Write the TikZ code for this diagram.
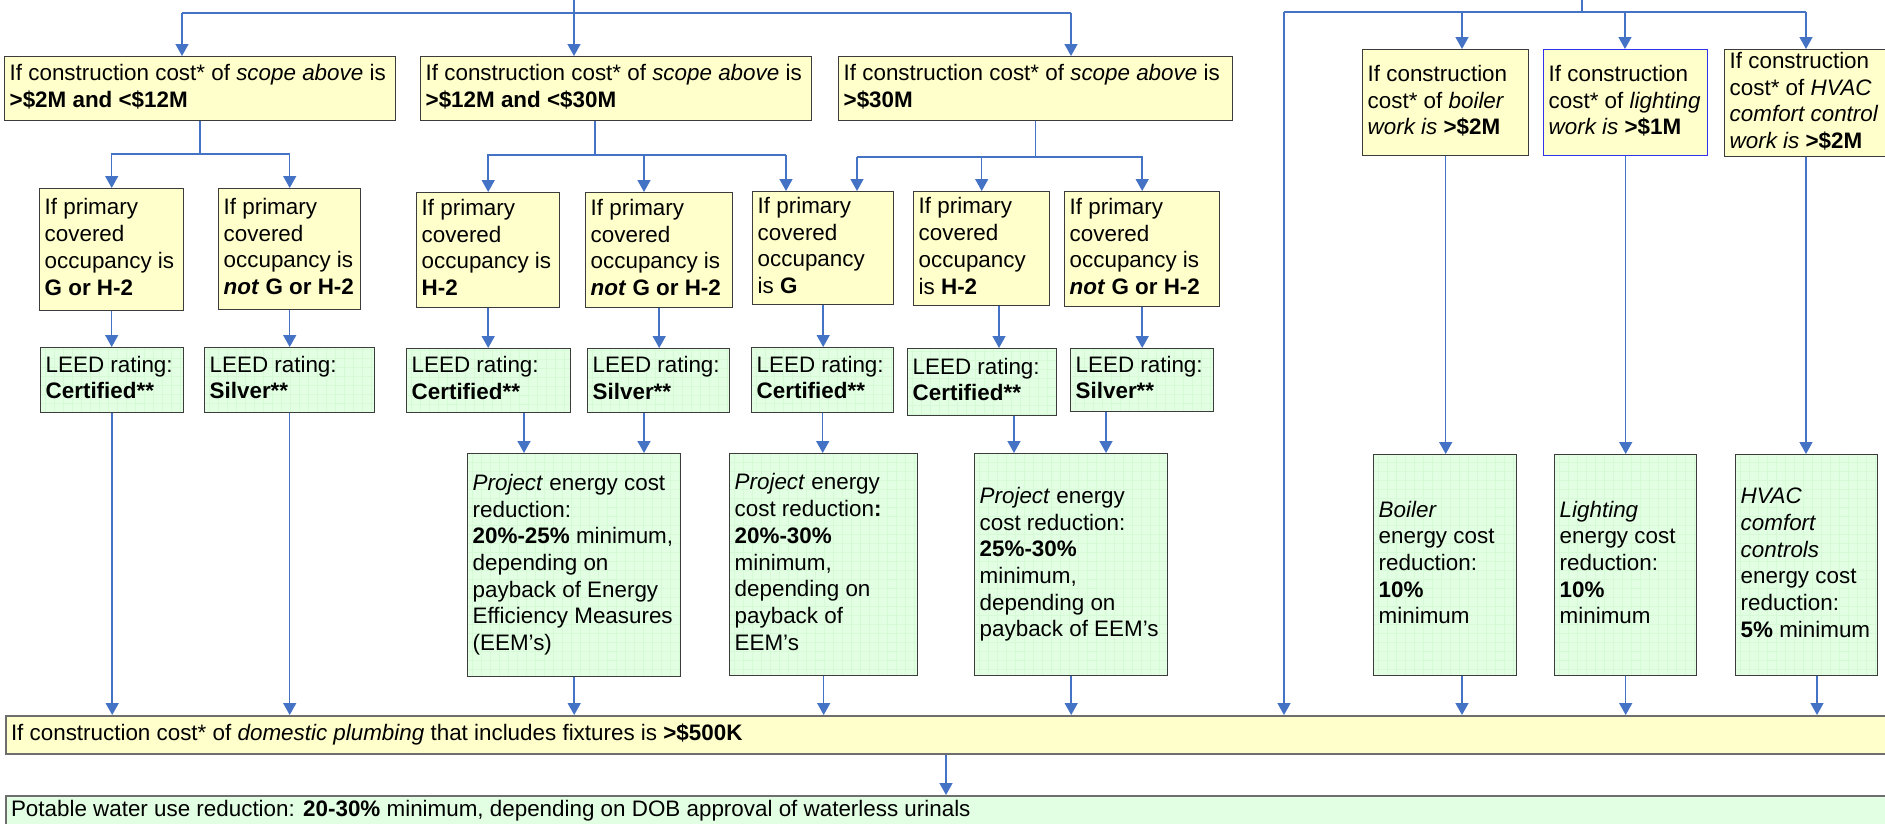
\documentclass[tikz,border=0pt]{standalone}
\usepackage{fontspec}
\setmainfont{Liberation Sans}
\usetikzlibrary{arrows.meta,calc}
\definecolor{conn}{RGB}{68,114,196}
\definecolor{ybox}{RGB}{255,255,204}
\definecolor{gbox}{RGB}{227,255,227}
\definecolor{ggrid}{RGB}{214,249,214}
\definecolor{edgec}{RGB}{60,60,60}
\definecolor{bluedge}{RGB}{50,50,235}
\definecolor{bargray}{RGB}{110,110,110}
\tikzset{
  box/.style={draw=edgec, line width=1.4pt, anchor=north west, inner xsep=5pt, inner ysep=0pt,
    font=\fontsize{22.4}{26.7}\selectfont},
  yb/.style={box, fill=ybox},
  gb/.style={box, fill=gbox, path picture={\draw[ggrid, line width=0.5pt]
      (path picture bounding box.north west) grid[step=9pt] (path picture bounding box.south east);}},
  ybl/.style={box, fill=ybox, draw=bluedge},
  ybar/.style={box, fill=ybox, draw=bargray, line width=2pt},
  gbar/.style={box, fill=gbox, draw=bargray, line width=2pt},
  ln/.style={draw=conn, line width=1.5pt},
  ar/.style={ln, -{Triangle[length=12pt,width=13pt]}}
}
\newcommand\bx[7]{%
  \pgfmathsetmacro\bxw{#4-#2}%
  \pgfmathsetmacro\bxh{#5-#3}%
  \pgfmathsetmacro\bxt{#4-#2-10}%
  \node[#6, minimum width=\bxw pt, minimum height=\bxh pt] (#1) at (#2,#3)
    {\makebox[\bxt pt][l]{\begin{tabular}{@{}l@{}}#7\end{tabular}}};}
\begin{document}
\begin{tikzpicture}[x=1pt,y=-1pt]
\useasboundingbox (0,0) rectangle (1885,823);
\clip (0,0) rectangle (1885,823);

% top row
\bx{A1}{4}{56}{395}{120}{yb}{If construction cost* of \textit{scope above} is\\\textbf{>\$2M and <\$12M}}
\bx{A2}{420}{56}{811}{120}{yb}{If construction cost* of \textit{scope above} is\\\textbf{>\$12M and <\$30M}}
\bx{A3}{838}{56}{1232}{120}{yb}{If construction cost* of \textit{scope above} is\\\textbf{>\$30M}}
\bx{C1}{1362}{49}{1528}{155}{yb}{If construction\\cost* of \textit{boiler}\\\textit{work is} \textbf{>\$2M}}
\bx{C2}{1543}{49}{1707}{155}{ybl}{If construction\\cost* of \textit{lighting}\\\textit{work is} \textbf{>\$1M}}
\bx{C3}{1724}{49}{1910}{156}{yb}{If construction\\cost* of \textit{HVAC}\\\textit{comfort control}\\\textit{work is} \textbf{>\$2M}}

% occupancy row
\bx{B1}{39}{188}{183}{310}{yb}{If primary\\covered\\occupancy is\\\textbf{G or H-2}}
\bx{B2}{218}{188}{360}{309}{yb}{If primary\\covered\\occupancy is\\\textbf{\textit{not} G or H-2}}
\bx{B3}{416}{192}{559}{307}{yb}{If primary\\covered\\occupancy is\\\textbf{H-2}}
\bx{B4}{585}{192}{732}{307}{yb}{If primary\\covered\\occupancy is\\\textbf{\textit{not} G or H-2}}
\bx{B5}{752}{191}{893}{304}{yb}{If primary\\covered\\occupancy\\is \textbf{G}}
\bx{B6}{913}{191}{1049}{305}{yb}{If primary\\covered\\occupancy\\is \textbf{H-2}}
\bx{B7}{1064}{191}{1219}{306}{yb}{If primary\\covered\\occupancy is\\\textbf{\textit{not} G or H-2}}

% LEED row
\bx{D1}{40}{347}{183}{412}{gb}{LEED rating:\\\textbf{Certified**}}
\bx{D2}{204}{347}{374}{412}{gb}{LEED rating:\\\textbf{Silver**}}
\bx{D3}{406}{348}{570}{412}{gb}{LEED rating:\\\textbf{Certified**}}
\bx{D4}{587}{348}{729}{412}{gb}{LEED rating:\\\textbf{Silver**}}
\bx{D5}{751}{347}{893}{412}{gb}{LEED rating:\\\textbf{Certified**}}
\bx{D6}{907}{348}{1056}{415}{gb}{LEED rating:\\\textbf{Certified**}}
\bx{D7}{1070}{348}{1213}{411}{gb}{LEED rating:\\\textbf{Silver**}}

% energy row
\bx{E1}{467}{453}{680}{676}{gb}{\textit{Project} energy cost\\reduction:\\\textbf{20\%-25\%} minimum,\\depending on\\payback of Energy\\Efficiency Measures\\(EEM’s)}
\bx{E2}{729}{453}{917}{675}{gb}{\textit{Project} energy\\cost reduction\textbf{:}\\\textbf{20\%-30\%}\\minimum,\\depending on\\payback of\\EEM’s}
\bx{E3}{974}{453}{1167}{675}{gb}{\textit{Project} energy\\cost reduction:\\\textbf{25\%-30\%}\\minimum,\\depending on\\payback of EEM’s}
\bx{F1}{1373}{454}{1516}{675}{gb}{\textit{Boiler}\\energy cost\\reduction:\\\textbf{10\%}\\minimum}
\bx{F2}{1554}{454}{1696}{675}{gb}{\textit{Lighting}\\energy cost\\reduction:\\\textbf{10\%}\\minimum}
\bx{F3}{1735}{454}{1877}{675}{gb}{\textit{HVAC}\\\textit{comfort}\\\textit{controls}\\energy cost\\reduction:\\\textbf{5\%} minimum}

% bottom bars
\bx{bar}{5}{715}{1910}{753}{ybar}{If construction cost* of \textit{domestic plumbing} that includes fixtures is \textbf{>\$500K}}
\bx{bot}{5}{795}{1910}{826}{gbar}{Potable water use reduction: \textbf{20-30\%} minimum, depending on DOB approval of waterless urinals}

% ---- connectors: left group
\coordinate (s1) at (574,0);
\coordinate (t1) at (574,13);
\coordinate (t1a) at (182,13);
\coordinate (t1b) at (1071,13);
\draw[ln] (s1) -- (t1);
\draw[ln] (t1a) -- (t1b);
\draw[ar] (t1a) -- (t1a |- A1.north);
\draw[ar] (t1) -- (t1 |- A2.north);
\draw[ar] (t1b) -- (t1b |- A3.north);

\coordinate (j1) at (A1.south |- 0,154);
\draw[ln] (A1.south) -- (j1);
\draw[ar] (j1) -| (B1.north);
\draw[ar] (j1) -| (B2.north);

\coordinate (j2) at (595,155);
\coordinate (j2b) at (644,155);
\coordinate (j2c) at (786,155);
\draw[ln] (j2 |- A2.south) -- (j2);
\draw[ar] (j2) -| (B3.north);
\draw[ln] (j2) -- (j2c);
\draw[ar] (j2b) -- (j2b |- B4.north);
\draw[ar] (j2c) -- (j2c |- B5.north);

\coordinate (j3) at (A3.south |- 0,157);
\coordinate (j3a) at (857,157);
\draw[ln] (A3.south) -- (j3);
\draw[ar] (j3) -| (B6.north);
\draw[ar] (j3) -| (B7.north);
\draw[ln] (j3) -- (j3a);
\draw[ar] (j3a) -- (j3a |- B5.north);

\draw[ar] (B1.south) -- (B1.south |- D1.north);
\draw[ar] (B2.south) -- (B2.south |- D2.north);
\draw[ar] (B3.south) -- (B3.south |- D3.north);
\draw[ar] (B4.south) -- (B4.south |- D4.north);
\draw[ar] (B5.south) -- (B5.south |- D5.north);
\draw[ar] (999,0 |- B6.south) -- (999,0 |- D6.north);
\draw[ar] (B7.south) -- (B7.south |- D7.north);

\draw[ar] (D1.south) -- (D1.south |- bar.north);
\draw[ar] (D2.south) -- (D2.south |- bar.north);
\draw[ar] (524,0 |- D3.south) -- (524,0 |- E1.north);
\draw[ar] (644,0 |- D4.south) -- (644,0 |- E1.north);
\draw[ar] (D5.south) -- (D5.south |- E2.north);
\draw[ar] (1014,0 |- D6.south) -- (1014,0 |- E3.north);
\draw[ar] (1106,0 |- D7.south) -- (1106,0 |- E3.north);

\draw[ar] (E1.south) -- (E1.south |- bar.north);
\draw[ar] (E2.south) -- (E2.south |- bar.north);
\draw[ar] (E3.south) -- (E3.south |- bar.north);

% ---- connectors: right group
\coordinate (s2) at (1582,0);
\coordinate (t2) at (1582,12);
\coordinate (t2a) at (1284,12);
\coordinate (t2b) at (1806,12);
\coordinate (t2c) at (1462,12);
\coordinate (t2d) at (1625,12);
\draw[ln] (s2) -- (t2);
\draw[ln] (t2a) -- (t2b);
\draw[ar] (t2a) -- (t2a |- bar.north);
\draw[ar] (t2c) -- (t2c |- C1.north);
\draw[ar] (t2d) -- (t2d |- C2.north);
\draw[ar] (t2b) -- (t2b |- C3.north);

\draw[ar] (C1.south) -- (C1.south |- F1.north);
\draw[ar] (C2.south) -- (C2.south |- F2.north);
\draw[ar] (1806,0 |- C3.south) -- (1806,0 |- F3.north);

\draw[ar] (1462,0 |- F1.south) -- (1462,0 |- bar.north);
\draw[ar] (F2.south) -- (F2.south |- bar.north);
\draw[ar] (1817,0 |- F3.south) -- (1817,0 |- bar.north);

\draw[ar] (946,0 |- bar.south) -- (946,0 |- bot.north);
\end{tikzpicture}
\end{document}
